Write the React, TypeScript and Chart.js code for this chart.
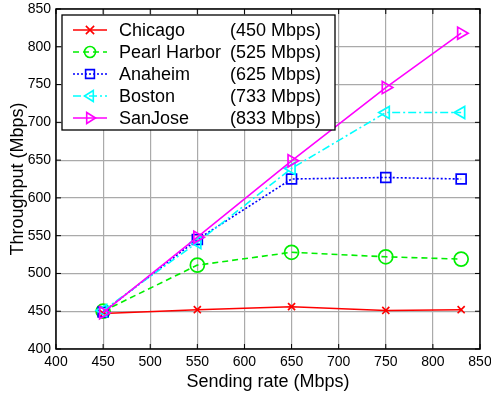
import React, { useEffect, useRef } from "react";
import { Chart, registerables } from "chart.js";

Chart.register(...registerables);

const sendingRates = [450, 550, 650, 750, 830];
const chicago = [447, 452, 456, 451, 452];
const pearlHarbor = [450, 511, 528, 522, 519];
const anaheim = [449, 545, 625, 627, 625];
const boston = [451, 541, 639, 713, 713];
const sanJose = [448, 548, 649, 746, 818];

const seriesNames = ["Chicago", "Pearl Harbor", "Anaheim", "Boston", "SanJose"];
const seriesRates = ["(450 Mbps)", "(525 Mbps)", "(625 Mbps)", "(733 Mbps)", "(833 Mbps)"];
const seriesValues = [chicago, pearlHarbor, anaheim, boston, sanJose];
const seriesColors = ["#ff0000", "#00ee00", "#0000ff", "#00ffff", "#ff00ff"];
const seriesDash = [[], [6, 4], [2, 2], [8, 3, 2, 3], []];
const seriesMarker = ["crossRot", "circle", "rect", "triangle", "triangle"];
const seriesRotation = [0, 0, 0, -90, 90];

const FONT = "Arial, 'Liberation Sans', Helvetica, sans-serif";

function drawMarker(ctx: CanvasRenderingContext2D, kind: number, x: number, y: number, r: number) {
  ctx.save();
  ctx.setLineDash([]);
  ctx.beginPath();
  if (kind === 0) {
    const d = r * 0.75;
    ctx.moveTo(x - d, y - d);
    ctx.lineTo(x + d, y + d);
    ctx.moveTo(x + d, y - d);
    ctx.lineTo(x - d, y + d);
  } else if (kind === 1) {
    ctx.arc(x, y, r, 0, Math.PI * 2);
  } else if (kind === 2) {
    const d = r * 0.8;
    ctx.rect(x - d, y - d, 2 * d, 2 * d);
  } else if (kind === 3) {
    ctx.moveTo(x - r, y);
    ctx.lineTo(x + r * 0.6, y - r);
    ctx.lineTo(x + r * 0.6, y + r);
    ctx.closePath();
  } else {
    ctx.moveTo(x + r, y);
    ctx.lineTo(x - r * 0.6, y - r);
    ctx.lineTo(x - r * 0.6, y + r);
    ctx.closePath();
  }
  ctx.stroke();
  ctx.restore();
}

const legendPlugin = {
  id: "matlabLegend",
  afterDraw(chart: any) {
    const ctx: CanvasRenderingContext2D = chart.ctx;
    const area = chart.chartArea;
    ctx.save();
    ctx.strokeStyle = "#000";
    ctx.lineWidth = 1.5;
    ctx.setLineDash([]);
    ctx.strokeRect(area.left, area.top, area.right - area.left, area.bottom - area.top);

    const bx = area.left + 6;
    const by = area.top + 6;
    const bw = 273;
    const bh = 115;
    ctx.fillStyle = "#fff";
    ctx.fillRect(bx, by, bw, bh);
    ctx.lineWidth = 1.3;
    ctx.strokeRect(bx, by, bw, bh);

    ctx.font = `18px ${FONT}`;
    ctx.textBaseline = "middle";
    for (let i = 0; i < seriesNames.length; i++) {
      const y = by + 15 + i * 22;
      ctx.strokeStyle = seriesColors[i];
      ctx.lineWidth = 1.6;
      ctx.setLineDash(seriesDash[i]);
      ctx.beginPath();
      ctx.moveTo(bx + 11, y);
      ctx.lineTo(bx + 45, y);
      ctx.stroke();
      drawMarker(ctx, i, bx + 28, y, 5.5);
      ctx.fillStyle = "#000";
      ctx.textAlign = "left";
      ctx.fillText(seriesNames[i], bx + 57, y + 1);
      ctx.textAlign = "right";
      ctx.fillText(seriesRates[i], bx + 259, y + 1);
    }
    ctx.restore();
  },
};

const innerTicksPlugin = {
  id: "innerTicks",
  beforeDatasetsDraw(chart: any) {
    const ctx: CanvasRenderingContext2D = chart.ctx;
    const area = chart.chartArea;
    const xs = chart.scales.x;
    const ys = chart.scales.y;
    ctx.save();
    ctx.strokeStyle = "#000";
    ctx.lineWidth = 1;
    ctx.beginPath();
    xs.ticks.forEach((t: any) => {
      const px = xs.getPixelForValue(t.value);
      ctx.moveTo(px, area.bottom);
      ctx.lineTo(px, area.bottom - 5);
      ctx.moveTo(px, area.top);
      ctx.lineTo(px, area.top + 5);
    });
    ys.ticks.forEach((t: any) => {
      const py = ys.getPixelForValue(t.value);
      ctx.moveTo(area.left, py);
      ctx.lineTo(area.left + 5, py);
      ctx.moveTo(area.right, py);
      ctx.lineTo(area.right - 5, py);
    });
    ctx.stroke();
    ctx.restore();
  },
};

export default function App() {
  const ref = useRef<HTMLCanvasElement>(null);
  useEffect(() => {
    document.body.style.margin = "0";
    const datasets = seriesNames.map((name, i) => ({
      label: name,
      data: sendingRates.map((x, j) => ({ x, y: seriesValues[i][j] })),
      borderColor: seriesColors[i],
      backgroundColor: "rgba(0,0,0,0)",
      borderWidth: 1.6,
      borderDash: seriesDash[i],
      pointStyle: seriesMarker[i] as any,
      pointRotation: seriesRotation[i],
      pointRadius: i === 0 ? 5 : 7,
      pointBorderWidth: 1.7,
      pointBorderColor: seriesColors[i],
      pointBackgroundColor: "rgba(0,0,0,0)",
      tension: 0,
      order: 4 - i,
    }));
    const chart = new Chart(ref.current!, {
      type: "line",
      data: { datasets },
      options: {
        animation: false,
        responsive: false,
        maintainAspectRatio: false,
        layout: { padding: { left: 0, right: 11, top: 9, bottom: 0 } },
        plugins: { legend: { display: false }, tooltip: { enabled: false } },
        scales: {
          x: {
            type: "linear",
            min: 400,
            max: 850,
            ticks: { stepSize: 50, color: "#000", font: { family: FONT, size: 14 }, padding: 5, maxRotation: 0 },
            grid: { color: "#aaaaaa", lineWidth: 1.2, drawTicks: false, tickLength: 0 },
            border: { display: false },
            title: { display: true, text: "Sending rate (Mbps)", color: "#000", font: { family: FONT, size: 18 }, padding: { top: 0, bottom: 0 } },
            afterFit: (s: any) => { s.height = 44; s.paddingLeft = 0; s.paddingRight = 0; s.paddingTop = 0; s.paddingBottom = 0; },
          },
          y: {
            min: 400,
            max: 850,
            ticks: { stepSize: 50, color: "#000", font: { family: FONT, size: 14 }, padding: 5 },
            grid: { color: "#aaaaaa", lineWidth: 1.2, drawTicks: false, tickLength: 0 },
            border: { display: false },
            title: { display: true, text: "Throughput (Mbps)", color: "#000", font: { family: FONT, size: 18 }, padding: { top: 7, bottom: 0 } },
            afterFit: (s: any) => { s.width = 56; s.paddingLeft = 0; s.paddingRight = 0; s.paddingTop = 0; s.paddingBottom = 0; },
          },
        },
      },
      plugins: [innerTicksPlugin, legendPlugin],
    });
    return () => chart.destroy();
  }, []);
  return (
    <div style={{ position: "fixed", left: 0, top: 0, width: 491, height: 393, background: "#fff" }}>
      <canvas ref={ref} width={491} height={393} style={{ width: 491, height: 393 }} />
    </div>
  );
}
